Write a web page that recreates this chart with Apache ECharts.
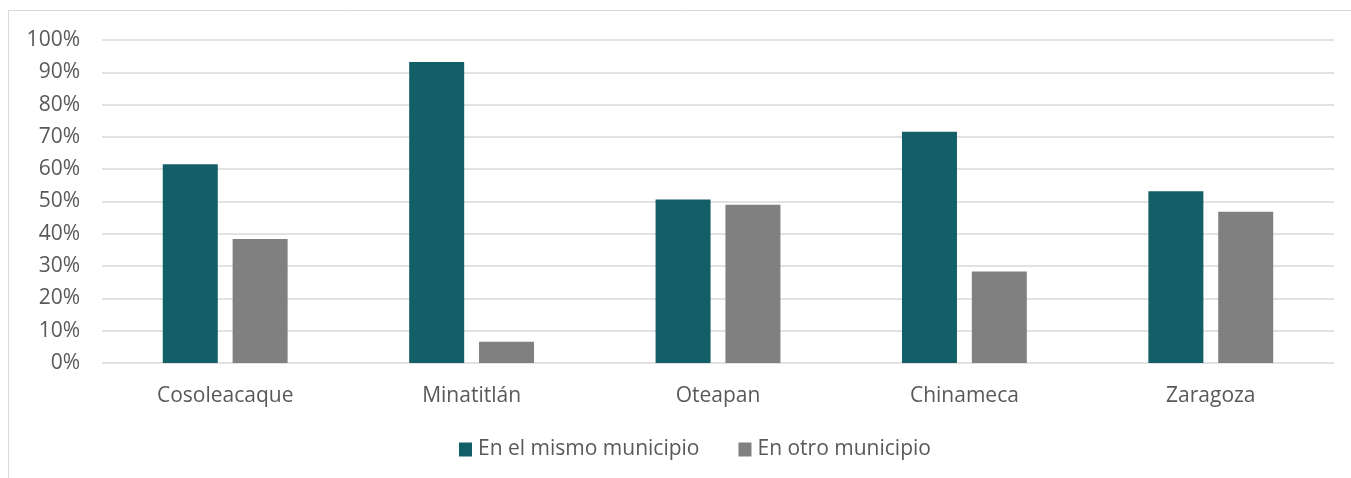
<!DOCTYPE html>
<html>
<head>
<meta charset="utf-8">
<script src="https://cdn.jsdelivr.net/npm/echarts@6/dist/echarts.min.js"></script>
<style>
  html, body { margin: 0; padding: 0; background: #fff; }
  #chart { width: 1351px; height: 478px; }
</style>
</head>
<body>
<div id="chart"></div>
<script>
const municipios = ["Cosoleacaque", "Minatitlán", "Oteapan", "Chinameca", "Zaragoza"];
const mismoMunicipio = [61.5, 93.2, 50.6, 71.6, 53.2];
const otroMunicipio = [38.4, 6.6, 49.0, 28.3, 46.8];
const seriesNames = ["En el mismo municipio", "En otro municipio"];

const font = "'Open Sans', 'Noto Sans', sans-serif";
const chart = echarts.init(document.getElementById("chart"));

chart.setOption({
    backgroundColor: "#fff",
    animation: false,
    graphic: [
        {
            type: "rect",
            shape: { x: 8.5, y: 10.5, width: 1400, height: 500 },
            style: { fill: "none", stroke: "#d9d9d9", lineWidth: 1 },
            silent: true,
        },
    ],
    grid: {
        left: 102,
        right: 17,
        top: 40,
        bottom: 115,
    },
    legend: {
        data: seriesNames,
        top: 434,
        left: 454,
        itemWidth: 13,
        itemHeight: 14,
        itemGap: 39,
        icon: "rect",
        textStyle: { color: "#595959", fontSize: 21, fontFamily: font, padding: [0, 0, 0, 1] },
    },
    xAxis: {
        type: "category",
        data: municipios,
        axisLine: { show: false },
        axisTick: { show: false },
        axisLabel: { color: "#595959", fontSize: 21, fontFamily: font, margin: 23 },
    },
    yAxis: {
        type: "value",
        min: 0,
        max: 100,
        interval: 10,
        axisLine: { show: false },
        axisTick: { show: false },
        axisLabel: {
            color: "#595959",
            fontSize: 21,
            fontFamily: font,
            margin: 22,
            formatter: "{value}%",
        },
        splitLine: { lineStyle: { color: "#d9d9d9", width: 1.5 } },
    },
    series: [
        {
            name: seriesNames[0],
            type: "bar",
            data: mismoMunicipio,
            barWidth: 55,
            barGap: "27%",
            itemStyle: { color: "#135f68" },
        },
        {
            name: seriesNames[1],
            type: "bar",
            data: otroMunicipio,
            barWidth: 55,
            barGap: "27%",
            itemStyle: { color: "#808080" },
        },
    ],
});
</script>
</body>
</html>
